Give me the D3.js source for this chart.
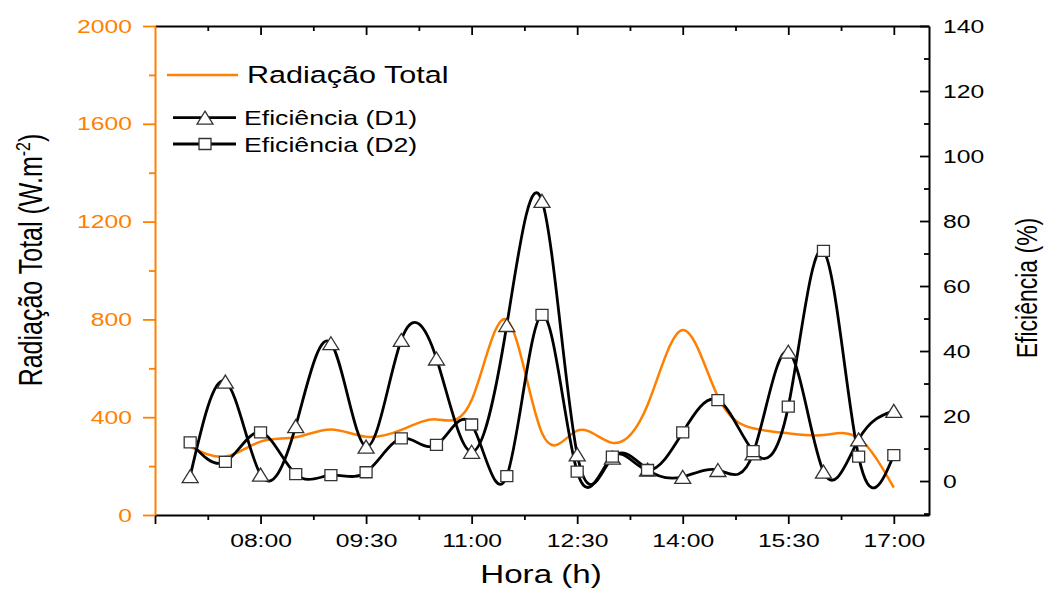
<!DOCTYPE html>
<html lang="pt">
<head>
<meta charset="utf-8" />
<title>Radiação e Eficiência</title>
<style>
  body { margin: 0; background: #fff; }
  svg { display: block; font-family: "Liberation Sans", Arial, sans-serif; }
</style>
</head>
<body>
<svg id="chart" width="1044" height="592"></svg>
<script src="https://d3js.org/d3.v7.min.js"></script>
<script>
// --- dados ---
const horas = ["07:00","07:30","08:00","08:30","09:00","09:30","10:00","10:30","11:00","11:30",
  "12:00","12:30","13:00","13:30","14:00","14:30","15:00","15:30","16:00","16:30","17:00"];
const radiacao = [280, 239, 300, 318, 350, 320, 348, 391, 470, 798,
  335, 345, 295, 450, 757, 484, 355, 334, 327, 314, 112];
const eficD1 = [1.5, 30.6, 2.0, 16.9, 42.4, 10.6, 43.4, 37.7, 9.0, 48.0,
  86.2, 8.2, 7.2, 3.5, 1.3, 3.4, 8.5, 39.8, 2.9, 12.8, 21.6];
const eficD2 = [11.9, 5.9, 15.0, 2.1, 1.8, 2.7, 13.1, 11.1, 17.4, 1.5,
  51.1, 2.9, 7.5, 3.4, 15.0, 24.9, 9.2, 22.9, 70.8, 7.5, 8.0];
const rotulosX = ["08:00","09:30","11:00","12:30","14:00","15:30","17:00"];
const ticksEsq = [0, 400, 800, 1200, 1600, 2000];
const ticksDir = [0, 20, 40, 60, 80, 100, 120, 140];

const ORANGE = "#ff8000";
const SX = 1.3; // texto esticado na horizontal, como no original

const toH = s => { const [h, m] = s.split(":"); return +h + m / 60; };

const svg = d3.select("#chart");
const L = 155, R = 929, T = 26, B = 515;

const x = d3.scaleLinear().domain([6.5, 17.5]).range([L, R]);
const yL = d3.scaleLinear().domain([0, 2000]).range([B, T]);
const yR = d3.scaleLinear().domain([-10.45, 140]).range([B, T]);

const majorX = [6.5].concat(rotulosX.map(toH));
const minorX = d3.range(majorX.length - 1).map(i => (majorX[i] + majorX[i + 1]) / 2);
const minorL = ticksEsq.slice(0, -1).map((v, i) => (v + ticksEsq[i + 1]) / 2);
const minorR = ticksDir.slice(0, -1).map((v, i) => (v + ticksDir[i + 1]) / 2).concat([-10]);

function styleAxis(g, color, width) {
  g.select(".domain").attr("stroke", color).attr("stroke-width", width);
  g.selectAll(".tick line").attr("stroke", color).attr("stroke-width", 1.8);
}

// eixo inferior
const gB = svg.append("g").attr("transform", `translate(0,${B})`);
gB.call(d3.axisBottom(x).tickValues(majorX).tickSizeInner(9).tickSizeOuter(0)
  .tickFormat(d => { const i = rotulosX.map(toH).indexOf(d); return i >= 0 ? rotulosX[i] : ""; }));
gB.append("g").call(d3.axisBottom(x).tickValues(minorX).tickSize(5).tickFormat(""))
  .select(".domain").remove();
styleAxis(gB, "#000", 2);
gB.selectAll("text").attr("font-size", 19).attr("fill", "#000")
  .attr("y", 32).attr("dy", null).attr("transform", `scale(${SX},1)`);

// eixo superior (ticks para dentro)
const gT = svg.append("g").attr("transform", `translate(0,${T})`);
gT.call(d3.axisTop(x).tickValues(majorX.slice(1)).tickSizeInner(-9).tickSizeOuter(0).tickFormat(""));
gT.append("g").call(d3.axisTop(x).tickValues(minorX).tickSize(-5).tickFormat(""))
  .select(".domain").remove();
styleAxis(gT, "#000", 2);

// eixo esquerdo (laranja)
const gL = svg.append("g").attr("transform", `translate(${L},0)`);
gL.call(d3.axisLeft(yL).tickValues(ticksEsq).tickFormat(d3.format("d")).tickSizeInner(12).tickSizeOuter(0));
gL.append("g").call(d3.axisLeft(yL).tickValues(minorL).tickSize(6).tickFormat(""))
  .select(".domain").remove();
styleAxis(gL, ORANGE, 2);
gL.selectAll("text").attr("font-size", 19).attr("fill", ORANGE)
  .attr("x", -23 / SX).attr("transform", `scale(${SX},1)`);

// eixo direito (ticks para dentro)
const gR = svg.append("g").attr("transform", `translate(${R},0)`);
gR.call(d3.axisRight(yR).tickValues(ticksDir).tickFormat(d3.format("d")).tickSizeInner(-9).tickSizeOuter(0));
gR.append("g").call(d3.axisRight(yR).tickValues(minorR).tickSize(-5).tickFormat(""))
  .select(".domain").remove();
styleAxis(gR, "#000", 2);
gR.selectAll("text").attr("font-size", 19).attr("fill", "#000")
  .attr("x", 14 / SX).attr("transform", `scale(${SX},1)`);

// títulos dos eixos
svg.append("text").attr("transform", `translate(541,583) scale(${SX},1)`)
  .attr("text-anchor", "middle").attr("font-size", 25.5).text("Hora (h)");

const tl = svg.append("text").attr("transform", `translate(42,260) scale(${SX},1) rotate(-90)`)
  .attr("text-anchor", "middle").attr("font-size", 25);
tl.append("tspan").text("Radiação Total (W.m");
tl.append("tspan").attr("font-size", 16).attr("dy", -9).text("-2");
tl.append("tspan").attr("dy", 9).text(")");

svg.append("text").attr("transform", `translate(1037,288) scale(${SX},1) rotate(-90)`)
  .attr("text-anchor", "middle").attr("font-size", 23).text("Eficiência (%)");

// linhas
const hx = horas.map(toH);
const lineL = d3.line().x((d, i) => x(hx[i])).y(d => yL(d)).curve(d3.curveNatural);
const lineR = d3.line().x((d, i) => x(hx[i])).y(d => yR(d)).curve(d3.curveNatural);

const plot = svg.append("g");
plot.append("path").datum(radiacao).attr("d", lineL)
  .attr("fill", "none").attr("stroke", ORANGE).attr("stroke-width", 2.5);
plot.append("path").datum(eficD1).attr("d", lineR)
  .attr("fill", "none").attr("stroke", "#000").attr("stroke-width", 2.8);
plot.append("path").datum(eficD2).attr("d", lineR)
  .attr("fill", "none").attr("stroke", "#000").attr("stroke-width", 2.8);

const triPath = "M0,-6.5L8,6.5L-8,6.5Z";
const sqPath = "M-6,-5.5H6V5.5H-6Z";

function markers(data, path) {
  plot.append("g").selectAll("path").data(data).join("path")
    .attr("transform", (d, i) => `translate(${x(hx[i])},${yR(d)})`)
    .attr("d", path).attr("fill", "#fff").attr("stroke", "#333").attr("stroke-width", 1.3);
}
markers(eficD1, triPath);
markers(eficD2, sqPath);

// legenda
const leg = svg.append("g");
leg.append("line").attr("x1", 167).attr("x2", 238).attr("y1", 75).attr("y2", 75)
  .attr("stroke", ORANGE).attr("stroke-width", 2.5);
leg.append("text").attr("transform", `translate(247,83) scale(${SX},1)`)
  .attr("font-size", 23.5).text("Radiação Total");

[["Eficiência (D1)", triPath, 117.7], ["Eficiência (D2)", sqPath, 144]].forEach(([lab, p, y]) => {
  leg.append("line").attr("x1", 173).attr("x2", 236).attr("y1", y).attr("y2", y)
    .attr("stroke", "#000").attr("stroke-width", 2.8);
  leg.append("path").attr("transform", `translate(205,${y})`).attr("d", p)
    .attr("fill", "#fff").attr("stroke", "#333").attr("stroke-width", 1.3);
  leg.append("text").attr("transform", `translate(244,${y + 7.5}) scale(${SX},1)`)
    .attr("font-size", 20.5).text(lab);
});
</script>
</body>
</html>
